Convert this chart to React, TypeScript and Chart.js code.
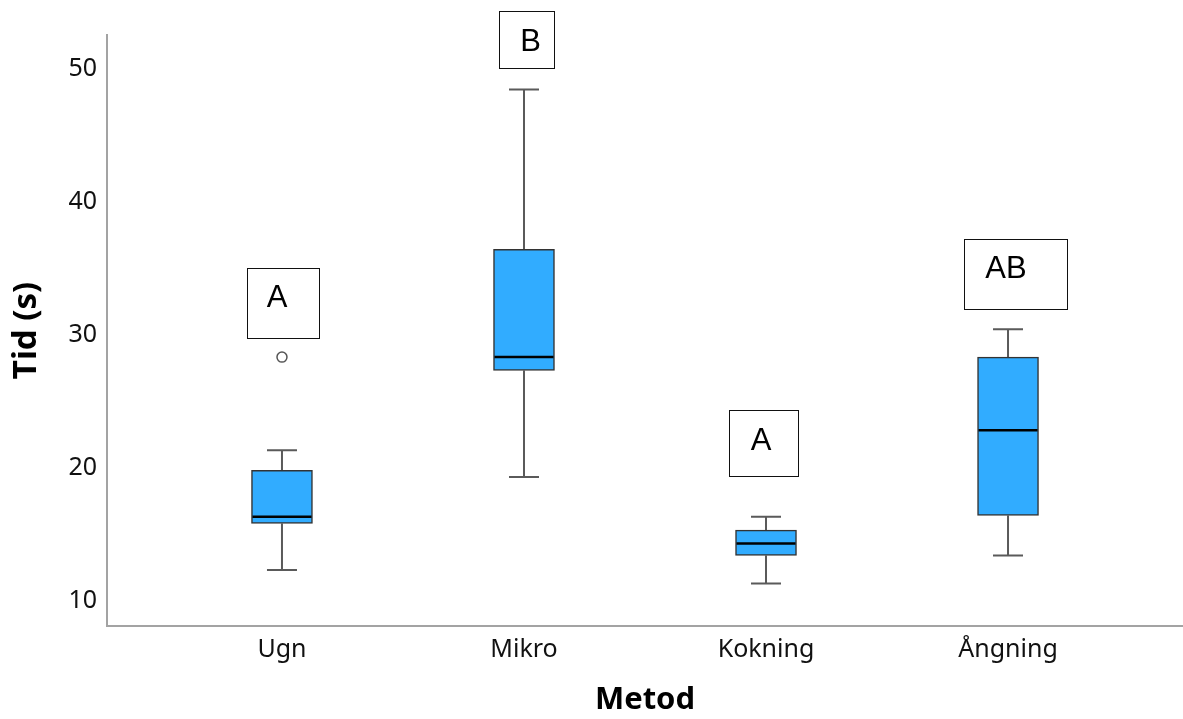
import React, { useEffect, useRef } from "react";
import { Chart, registerables } from "chart.js";

Chart.register(...registerables);

// ---- data ----
const categories = ["Ugn", "Mikro", "Kokning", "Ångning"];
const whiskerMin = [12.1, 19.1, 11.1, 13.2];
const q1 = [15.6, 27.1, 13.2, 16.2];
const median = [16.1, 28.1, 14.1, 22.6];
const q3 = [19.6, 36.2, 15.1, 28.1];
const whiskerMax = [21.1, 48.2, 16.1, 30.2];
const outliers = [{ cat: 0, value: 28.1 }];
const groupLetters = ["A", "B", "A", "AB"];
const letterBoxTop = [34.8, 54.1, 24.1, 37.0];
const yTicks = [10, 20, 30, 40, 50];

// ---- style ----
const BOX_FILL = "#31acff";
const BOX_BORDER = "#333333";
const WHISKER = "#5a5a5a";
const AXIS = "#a3a3a3";
const FONT = "'Noto Sans', 'Open Sans', sans-serif";
const letterBoxW = [72, 55, 69, 103];
const letterBoxH = [70, 57, 66, 70];
const letterBoxDx = [1, 2.5, -2.5, 7];
const letterTextDx = [-6, 4, -2.5, -9];

const boxPlotPlugin = {
  id: "boxPlotExtras",
  beforeDatasetsDraw(chart: any) {
    const { ctx, scales } = chart;
    const xs = scales.x, ys = scales.y;
    ctx.save();
    ctx.strokeStyle = WHISKER;
    ctx.lineWidth = 2;
    categories.forEach((_, i) => {
      const cx = xs.getPixelForValue(i);
      const yMin = ys.getPixelForValue(whiskerMin[i]);
      const yQ1 = ys.getPixelForValue(q1[i]);
      const yQ3 = ys.getPixelForValue(q3[i]);
      const yMax = ys.getPixelForValue(whiskerMax[i]);
      ctx.beginPath();
      ctx.moveTo(cx, yMin);
      ctx.lineTo(cx, yQ1);
      ctx.moveTo(cx, yQ3);
      ctx.lineTo(cx, yMax);
      ctx.moveTo(cx - 15, yMin);
      ctx.lineTo(cx + 15, yMin);
      ctx.moveTo(cx - 15, yMax);
      ctx.lineTo(cx + 15, yMax);
      ctx.stroke();
    });
    ctx.restore();
  },
  afterDatasetsDraw(chart: any) {
    const { ctx, scales } = chart;
    const xs = scales.x, ys = scales.y;
    const meta = chart.getDatasetMeta(0);
    ctx.save();
    // medians
    ctx.strokeStyle = "#000";
    ctx.lineWidth = 2.5;
    categories.forEach((_, i) => {
      const bar = meta.data[i];
      const half = bar.width / 2;
      const cx = xs.getPixelForValue(i);
      const y = ys.getPixelForValue(median[i]);
      ctx.beginPath();
      ctx.moveTo(cx - half + 1, y);
      ctx.lineTo(cx + half - 1, y);
      ctx.stroke();
    });
    // letter boxes
    ctx.lineWidth = 1;
    ctx.font = "31px 'Liberation Sans', Arial, sans-serif";
    ctx.textAlign = "center";
    ctx.textBaseline = "middle";
    groupLetters.forEach((txt, i) => {
      const cx = xs.getPixelForValue(i) + letterBoxDx[i];
      const top = ys.getPixelForValue(letterBoxTop[i]);
      const w = letterBoxW[i], h = letterBoxH[i];
      ctx.fillStyle = "#fff";
      ctx.fillRect(cx - w / 2, top, w, h);
      ctx.strokeStyle = "#111";
      ctx.strokeRect(Math.round(cx - w / 2) + 0.5, Math.round(top) + 0.5, w, h);
      ctx.fillStyle = "#000";
      ctx.fillText(txt, cx + letterTextDx[i], top + 31);
    });
    ctx.restore();
  },
};

export default function App() {
  const ref = useRef<HTMLCanvasElement | null>(null);
  useEffect(() => {
    document.body.style.margin = "0";
    const canvas = ref.current;
    if (!canvas) return;
    const chart = new Chart(canvas, {
      type: "bar",
      data: {
        datasets: [
          {
            type: "bar",
            data: categories.map((_, i) => ({ x: i, y: [q1[i], q3[i]] })) as any,
            backgroundColor: BOX_FILL,
            borderColor: BOX_BORDER,
            borderWidth: 1.5,
            borderSkipped: false,
            barThickness: 61,
          } as any,
          {
            type: "scatter",
            data: outliers.map((o) => ({ x: o.cat, y: o.value })),
            pointRadius: 5,
            pointBackgroundColor: "#fff",
            pointBorderColor: "#555",
            pointBorderWidth: 1.5,
          } as any,
        ],
      },
      options: {
        responsive: false,
        animation: false,
        layout: { autoPadding: false, padding: { top: 35, right: 0, bottom: 0, left: 0 } },
        plugins: { legend: { display: false }, tooltip: { enabled: false } },
        scales: {
          x: {
            type: "linear",
            offset: false,
            min: -0.723,
            max: 3.723,
            grid: { display: false, drawTicks: false, offset: false },
            border: { display: true, color: AXIS, width: 2 },
            afterBuildTicks: (s: any) => {
              s.ticks = categories.map((_, i) => ({ value: i }));
            },
            afterFit: (s: any) => {
              s.height = 93;
              s.paddingLeft = 0;
              s.paddingRight = 0;
            },
            ticks: {
              autoSkip: false,
              maxRotation: 0,
              padding: 9,
              color: "#111",
              font: { family: FONT, size: 25 },
              callback: (v: any) => categories[v] ?? "",
            },
            title: {
              display: true,
              text: "Metod",
              color: "#000",
              font: { family: FONT, size: 31, weight: "bold" },
              padding: { top: 0, bottom: 0 },
            },
          },
          y: {
            type: "linear",
            min: 7.9,
            max: 52.3,
            grid: { display: false, drawTicks: false },
            border: { display: true, color: AXIS, width: 2 },
            afterBuildTicks: (s: any) => {
              s.ticks = yTicks.map((v) => ({ value: v }));
            },
            afterFit: (s: any) => {
              s.width = 107;
              s.paddingTop = 0;
              s.paddingBottom = 0;
            },
            ticks: {
              padding: 10,
              labelOffset: 3,
              color: "#111",
              font: { family: FONT, size: 25 },
            },
            title: {
              display: true,
              text: "Tid (s)",
              color: "#000",
              font: { family: FONT, size: 33, weight: "bold" },
              padding: { top: 7, bottom: 0 },
            },
          },
        },
      },
      plugins: [boxPlotPlugin],
    } as any);
    return () => chart.destroy();
  }, []);
  return (
    <div style={{ width: 1183, height: 719, background: "#fff" }}>
      <canvas ref={ref} width={1183} height={719} />
    </div>
  );
}
